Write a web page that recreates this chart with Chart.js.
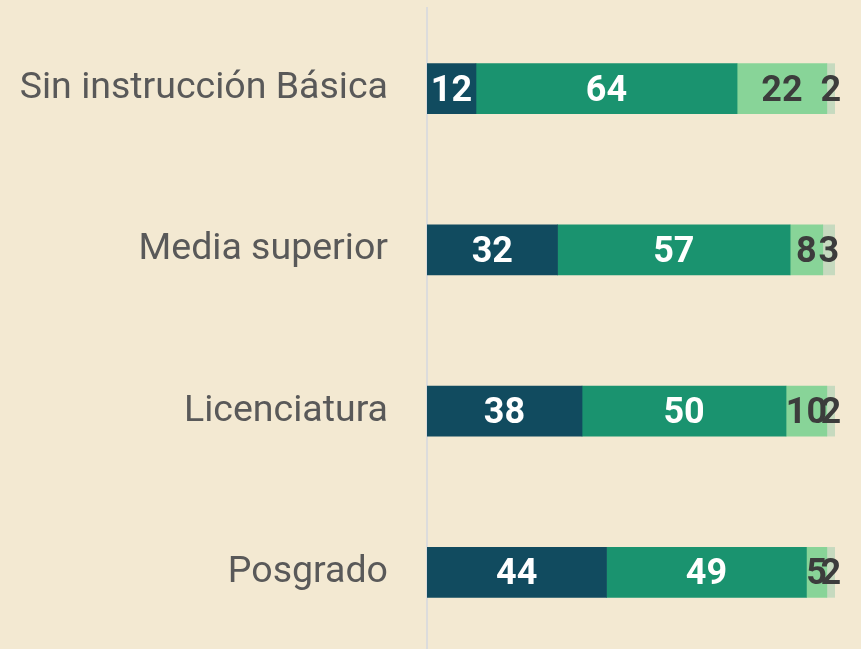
<!DOCTYPE html>
<html>
<head>
<meta charset="utf-8">
<script src="https://cdn.jsdelivr.net/npm/chart.js@4/dist/chart.umd.min.js"></script>
<style>
  html, body { margin: 0; padding: 0; background: #F3E9D2; overflow: hidden; }
  canvas { display: block; }
</style>
</head>
<body>
<canvas id="c" width="861" height="653"></canvas>
<script>
const categories = ["Sin instrucción Básica", "Media superior", "Licenciatura", "Posgrado"];
const series1 = [12, 32, 38, 44];
const series2 = [64, 57, 50, 49];
const series3 = [22, 8, 10, 5];
const series4 = [2, 3, 2, 2];
const seriesNames = ["Serie 1", "Serie 2", "Serie 3", "Serie 4"];
const colors = ["#114B5F", "#1A936F", "#88D498", "#C6DABF"];
const labelColors = ["#ffffff", "#ffffff", "#3c3c3c", "#3c3c3c"];

const valueLabels = {
  id: 'valueLabels',
  afterDatasetsDraw(chart) {
    const ctx = chart.ctx;
    ctx.save();
    ctx.font = 'bold 36px Roboto';
    ctx.textAlign = 'center';
    ctx.textBaseline = 'middle';
    chart.data.datasets.forEach((ds, i) => {
      const meta = chart.getDatasetMeta(i);
      ctx.fillStyle = labelColors[i];
      meta.data.forEach((el, j) => {
        const cx = (el.x + el.base) / 2;
        ctx.fillText(String(ds.data[j]), cx, el.y + 3);
      });
    });
    ctx.restore();
  }
};

const allSeries = [series1, series2, series3, series4];
new Chart(document.getElementById('c'), {
  type: 'bar',
  data: {
    labels: categories,
    datasets: allSeries.map((d, i) => ({
      label: seriesNames[i],
      data: d,
      backgroundColor: colors[i],
      borderWidth: 0,
      barThickness: 50
    }))
  },
  options: {
    indexAxis: 'y',
    responsive: false,
    animation: false,
    layout: { padding: { top: 8, right: 26, bottom: 0, left: 0 } },
    plugins: { legend: { display: false }, tooltip: { enabled: false } },
    scales: {
      x: { stacked: true, display: false, min: 0, max: 100 },
      y: {
        stacked: true,
        grid: { display: false, drawTicks: false },
        border: { display: true, color: '#dcdcdc', width: 2 },
        ticks: {
          padding: 39,
          color: '#595959',
          font: { family: 'Roboto', size: 37.5 }
        },
        afterFit(scale) {
          scale.width = 427;
          scale.paddingTop = 0;
          scale.paddingBottom = 0;
        }
      }
    }
  },
  plugins: [valueLabels]
});
</script>
</body>
</html>
